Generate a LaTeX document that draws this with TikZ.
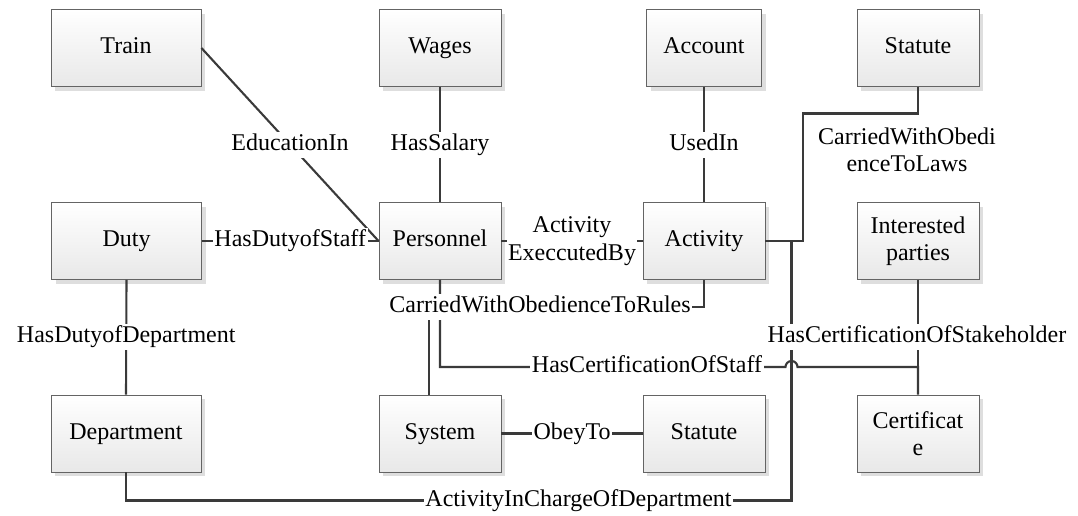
\documentclass[tikz,border=0pt]{standalone}
\usepackage{fontspec}
\setmainfont{Liberation Serif}
\usetikzlibrary{shadows}

\definecolor{wirecol}{RGB}{58,58,58}
\definecolor{boxline}{RGB}{100,100,100}

\begin{document}
\begin{tikzpicture}[x=1pt,y=-1pt,
  font=\fontsize{24}{27.5}\selectfont,
  entity/.style={draw=boxline, line width=0.9pt, top color=white, bottom color=black!9,
    minimum height=77pt, minimum width=122pt, inner sep=0pt, align=center,
    drop shadow={shadow xshift=4pt, shadow yshift=-4pt, fill=black!13, opacity=1}},
  oneline/.style={text height=16pt, text depth=5pt},
  wide/.style={minimum width=150pt},
  wire/.style={draw=wirecol, line width=2.1pt},
  lbl/.style={fill=white, inner xsep=1.5pt, inner ysep=2.5pt, text height=16pt, text depth=5pt},
  lbltwo/.style={fill=white, inner xsep=1.5pt, inner ysep=2pt, align=center},
]
\useasboundingbox (0,0) rectangle (1078,515);

% entities
\node[entity, oneline, wide] (train) at (126,48) {Train};
\node[entity, oneline] (wages) at (440,48) {Wages};
\node[entity, oneline, minimum width=115pt] (account) at (704,48) {Account};
\node[entity, oneline] (statuteA) at (918,48) {Statute};
\node[entity, oneline, wide] (duty) at (126.5,241) {Duty};
\node[entity, oneline] (personnel) at (440,241) {Personnel};
\node[entity, oneline] (activity) at (704,241) {Activity};
\node[entity] (parties) at (918,241) {Interested\\parties};
\node[entity, oneline, wide] (department) at (126,433.5) {Department};
\node[entity, oneline] (system) at (440,433.5) {System};
\node[entity, oneline] (statuteB) at (704,433.5) {Statute};
\node[entity] (certificate) at (918,433.5) {Certificat\\e};

% junction points of the routed connectors
\coordinate (lawsbend) at (803,241);
\coordinate (deptbend) at (791.5,241);
\coordinate (hop) at (791.5,367);

% straight relations
\draw[wire] (train.east) -- (personnel.west) node[lbl, pos=0.5] (educ) {EducationIn};
\draw[wire] (wages.south) -- (personnel.north) node[lbl, pos=0.5] (salary) {HasSalary};
\draw[wire] (duty.east) -- (personnel.west) node[lbl, pos=0.5] (dutystaff) {HasDutyofStaff};
\draw[wire] (personnel.east) -- (activity.west) node[lbltwo, pos=0.5] (execby) {Activity\\ExeccutedBy};
\draw[wire] (account.south) -- (activity.north) node[lbl, pos=0.5] (usedin) {UsedIn};
\draw[wire] (system.east) -- (statuteB.west) node[lbl, pos=0.5] (obey) {ObeyTo};
\draw[wire] (duty.south) -- (department.north) node[lbl, pos=0.5] (dutydept) {HasDutyofDepartment};

% routed relations
\draw[wire] (statuteA.south) -- ++(0,26.5) -| (lawsbend) -- (activity.east);
\draw[wire] (department.south) -- ++(0,28) -| (deptbend) -- (activity.east);
\draw[wire] (personnel.south) -- ++(0,27) -| (activity.south);
\draw[wire] (personnel.south) -- ++(0,27) -| ([xshift=-11pt]system.north);
\draw[wire] (personnel.south) -- (personnel.south |- hop) -- ([xshift=-6pt]hop)
  arc[start angle=180, end angle=0, radius=6pt] -| (certificate.north);
\draw[wire] (parties.south) -- (parties.south |- hop);

% labels of routed relations
\node[align=center] (lawslbl) at (907,150) {CarriedWithObedi\\enceToLaws};
\node[lbl] (ruleslbl) at (540,307) {CarriedWithObedienceToRules};
\node[lbl] (deptlbl) at (578.5,501) {ActivityInChargeOfDepartment};
\node[lbl] (stafflbl) at (647,367) {HasCertificationOfStaff};
\node[lbl] (stakelbl) at (917,337) {HasCertificationOfStakeholder};
\end{tikzpicture}
\end{document}
